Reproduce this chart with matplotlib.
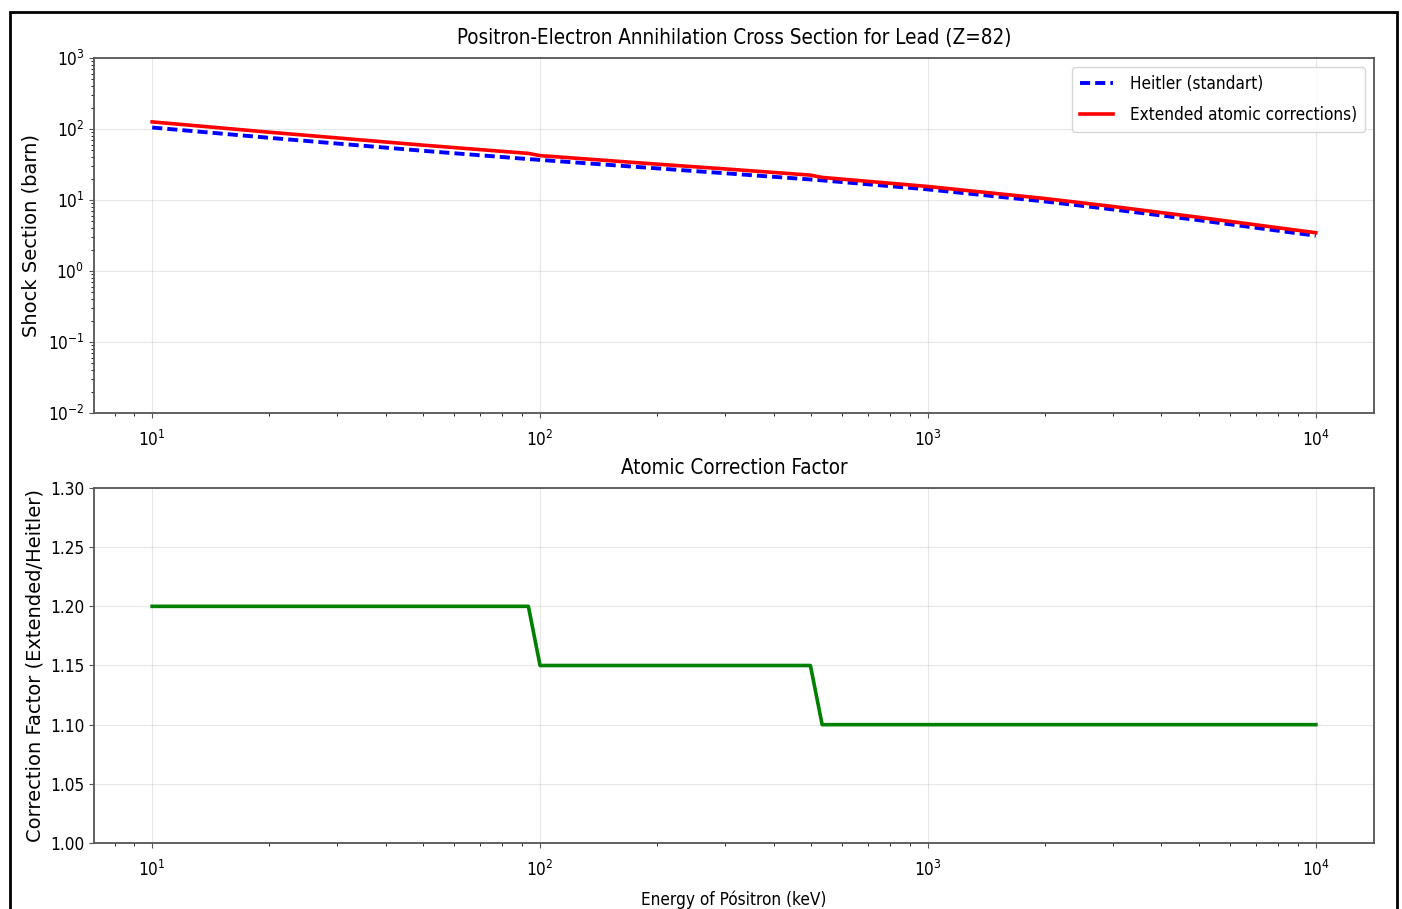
import numpy as np
import matplotlib
matplotlib.use("Agg")
from matplotlib import pyplot as plt
from matplotlib.patches import Rectangle

# energies (keV), incl. the two step edges
energy = [10, 20, 50, 93.3, 100, 200, 300, 497.7, 533.7, 1000, 2000, 3000, 5000, 10000]
# Heitler cross section (barn)
heitler = [104.9, 75.2, 49.3, 37.7, 36.7, 27.9, 23.8, 19.45, 18.9, 14.1, 9.54, 7.36, 5.19, 3.14]
# extended (atomic corrections) cross section (barn)
extended = [125.9, 90.2, 59.2, 45.3, 42.2, 32.0, 27.4, 22.4, 20.8, 15.5, 10.5, 8.10, 5.70, 3.46]
# correction factor extended/heitler
correction = [1.2, 1.2, 1.2, 1.2, 1.15, 1.15, 1.15, 1.15, 1.1, 1.1, 1.1, 1.1, 1.1, 1.1]

plt.rcParams['font.family'] = ['DejaVu Sans']
plt.rcParams['font.stretch'] = 'condensed'
plt.rcParams['axes.edgecolor'] = '#555555'
plt.rcParams['axes.linewidth'] = 1.3

W, H = 1402, 909
fig = plt.figure(figsize=(W / 100, H / 100), dpi=100)
ax1 = fig.add_axes([94 / W, 1 - 413 / H, 1280 / W, 355 / H])
ax2 = fig.add_axes([94 / W, 1 - 843 / H, 1280 / W, 355 / H])

ax1.loglog(energy, heitler, color='blue', ls='--', lw=2.8, dashes=(2.6, 1.3), label='Heitler (standart)')
ax1.loglog(energy, extended, color='red', lw=2.6, label='Extended atomic corrections)')
ax1.set_ylim(1e-2, 1e3)
ax1.set_title('Positron-Electron Annihilation Cross Section for Lead (Z=82)', fontsize=14.8, pad=10)
ax1.set_ylabel('Shock Section (barn)', fontsize=14, stretch='normal', labelpad=5)
ax1.legend(loc='upper right', fontsize=12.3, handlelength=1.9, labelspacing=0.75,
           borderpad=0.5, handletextpad=1.0)
ax1.grid(True, alpha=0.3)

ax2.semilogx(energy, correction, color='green', lw=2.6)
ax2.set_ylim(1.0, 1.3)
ax2.set_title('Atomic Correction Factor', fontsize=14.8, pad=10)
ax2.set_ylabel('Correction Factor (Extended/Heitler)', fontsize=14, stretch='normal', labelpad=4)
ax2.set_xlabel('Energy of Pósitron (keV)', fontsize=12.3, labelpad=7)
ax2.grid(True, alpha=0.3)

for ax in (ax1, ax2):
    ax.tick_params(labelsize=12.3, color='#555555')
    ax.tick_params(axis='x', which='major', pad=9)

fig.patches.append(Rectangle((10 / W, -0.02), 1387 / W, 1.02 - 12 / H, transform=fig.transFigure,
                             fill=False, edgecolor='black', lw=2))

plt.savefig('out.png', dpi=100)
